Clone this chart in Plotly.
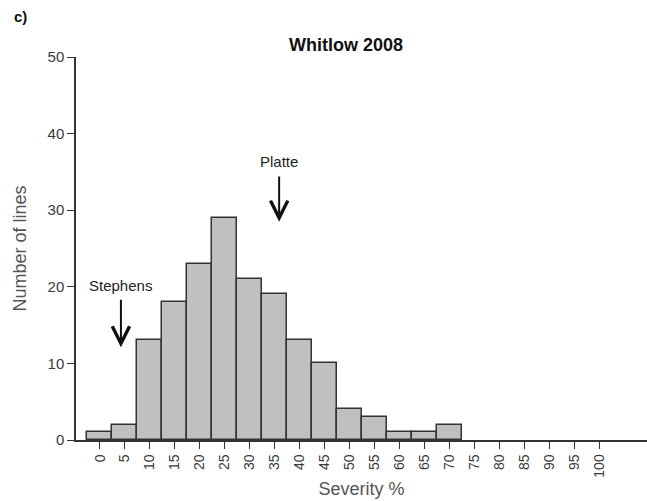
import plotly.graph_objects as go

# Severity classes (% diseased) and the number of lines in each class
severity = [0, 5, 10, 15, 20, 25, 30, 35, 40, 45, 50, 55, 60, 65, 70,
            75, 80, 85, 90, 95, 100]
n_lines = [1, 2, 13, 18, 23, 29, 21, 19, 13, 10, 4, 3, 1, 1, 2,
           0, 0, 0, 0, 0, 0]
tick_text = [str(v) for v in severity]

# Reference cultivars marked on the histogram: (name, severity, arrow tip, arrow tail, label y)
checks = [
    ("Stephens", 4.2, 12.1, 18.5, 20.2),
    ("Platte", 35.9, 28.5, 34.6, 36.3),
]

FONT = "Liberation Sans, Arial, sans-serif"

fig = go.Figure()
fig.add_trace(go.Bar(
    x=severity, y=n_lines, width=5,
    marker=dict(color="#c0c0c0",
                line=dict(color="#333333",
                          width=[1.5 if v > 0 else 0 for v in n_lines])),
    showlegend=False,
))

annotations = []
for name, xv, tip, tail, ly in checks:
    annotations.append(dict(
        x=xv, y=tip, ax=xv, ay=tail, xref="x", yref="y", axref="x", ayref="y",
        showarrow=True, arrowhead=5, arrowsize=1.7, arrowwidth=2,
        arrowcolor="#111111", text="",
    ))
    annotations.append(dict(
        x=xv, y=ly, xref="x", yref="y", text=name, showarrow=False,
        font=dict(family=FONT, size=15, color="#222222"),
        xanchor="center", yanchor="middle",
    ))

annotations.append(dict(
    x=346, y=501 - 45, xref="paper", yref="paper", text="<b>Whitlow 2008</b>",
    showarrow=False, font=dict(family=FONT, size=18, color="#111111"),
    xanchor="center", yanchor="middle",
))
annotations.append(dict(
    x=12, y=501 - 17, xref="paper", yref="paper", text="<b>c)</b>",
    showarrow=False, font=dict(family=FONT, size=15, color="#111111"),
    xanchor="left", yanchor="middle",
))

# convert the pixel-positioned paper annotations into paper fractions
W, H = 647, 501
L, R, T, B = 76, 0, 57, 61
for a in annotations:
    if a.get("xref") == "paper":
        a["x"] = (a["x"] - L) / (W - L - R)
        a["y"] = (a["y"] - B) / (H - T - B)

fig.update_layout(
    width=W, height=H,
    margin=dict(l=L, r=R, t=T, b=B),
    paper_bgcolor="white", plot_bgcolor="white",
    bargap=0,
    annotations=annotations,
    font=dict(family=FONT, color="#333333"),
)
fig.update_xaxes(
    range=[-4.8, 109.6], tickmode="array", tickvals=severity, ticktext=tick_text,
    tickangle=-90, ticks="outside", ticklen=7, tickcolor="#333333",
    showline=True, linecolor="#333333", linewidth=1.5,
    showgrid=False, zeroline=False,
    tickfont=dict(family=FONT, size=14, color="#3a3a3a"),
    title=dict(text="Severity %", font=dict(family=FONT, size=18, color="#555555"),
               standoff=6),
    automargin=False,
)
fig.update_yaxes(
    range=[0, 50], dtick=10, ticks="outside", ticklen=7, tickcolor="#333333",
    showline=True, linecolor="#333333", linewidth=1.5,
    showgrid=False, zeroline=False,
    tickfont=dict(family=FONT, size=15, color="#3a3a3a"),
    title=dict(text="Number of lines", font=dict(family=FONT, size=18, color="#555555"),
               standoff=16),
    automargin=False,
)

fig.write_html("out.html")
